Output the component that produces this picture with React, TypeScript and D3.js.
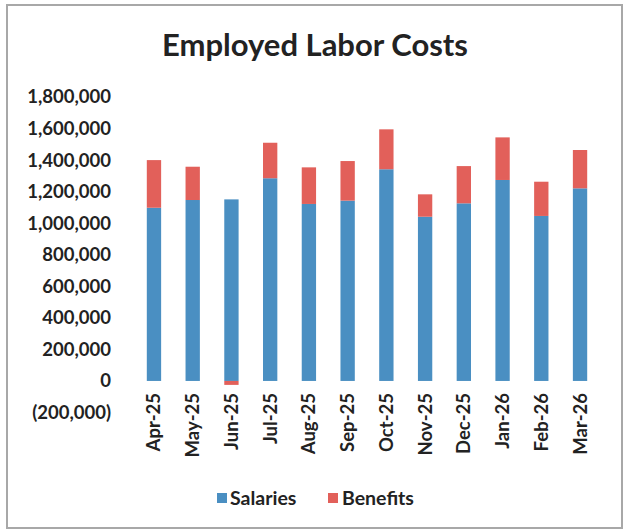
import React from "react";
import * as d3 from "d3";

const months = ["Apr-25","May-25","Jun-25","Jul-25","Aug-25","Sep-25","Oct-25","Nov-25","Dec-25","Jan-26","Feb-26","Mar-26"];
const salaries = [1098000,1147000,1151000,1285000,1122000,1143000,1342000,1041000,1126000,1274000,1046000,1221000];
const benefits = [302000,211000,-25000,225000,232000,251000,253000,142000,236000,270000,217000,243000];
const yTicks = [-200000,0,200000,400000,600000,800000,1000000,1200000,1400000,1600000,1800000];
const seriesNames = ["Salaries","Benefits"];
const colors = ["#4a8fc2","#e2605a"];

export default function App() {
  const W = 626, H = 531;
  const x = d3.scaleBand<string>().domain(months).range([134.6, 599.4]).paddingInner(0.63).paddingOuter(0.315);
  const y = d3.scaleLinear().domain([-200000, 1800000]).range([412.5, 97]);
  const rows = months.map((m, i) => ({ m, Salaries: salaries[i], Benefits: benefits[i] }));
  const stack = d3.stack<any>().keys(seriesNames).offset(d3.stackOffsetDiverging);
  const series = stack(rows);
  const fmt = d3.format(",");
  const fmtT = (v: number) => (v < 0 ? `(${fmt(-v)})` : fmt(v));
  const font = "Lato, 'Open Sans', sans-serif";
  return (
    <div>
      <style>{"body{margin:0}"}</style>
      <svg width={W} height={H} style={{ display: "block", background: "#fff" }}>
        <rect x={7} y={5} width={615} height={523} fill="#fff" stroke="#a8a8a8" strokeWidth={2} />
        <text x={315} y={56} textAnchor="middle" fontFamily={font} fontWeight={700} fontSize={31} fill="#222">Employed Labor Costs</text>
        {yTicks.map(t => (
          <text key={t} x={111} y={y(t)} dy="0.35em" textAnchor="end" fontFamily={font} fontWeight={700} fontSize={18.5} fill="#222">{fmtT(t)}</text>
        ))}
        {series.map((s, si) => (
          <g key={s.key} fill={colors[si]}>
            {s.map((d, i) => (
              <rect key={i} x={x(months[i])} width={x.bandwidth()} y={y(Math.max(d[0], d[1]))} height={Math.abs(y(d[0]) - y(d[1]))} />
            ))}
          </g>
        ))}
        {months.map(m => (
          <text key={m} transform={`translate(${(x(m) as number) + x.bandwidth() / 2},393) rotate(-90)`} dy="0.35em" textAnchor="end" fontFamily={font} fontWeight={700} fontSize={18.5} fill="#222">{m}</text>
        ))}
        <g fontFamily={font} fontWeight={700} fontSize={19.5} fill="#222">
          <rect x={217} y={493} width={10} height={10} fill={colors[0]} />
          <text x={230} y={498} dy="0.35em">Salaries</text>
          <rect x={328} y={493} width={10} height={10} fill={colors[1]} />
          <text x={342} y={498} dy="0.35em">Benefits</text>
        </g>
      </svg>
    </div>
  );
}
